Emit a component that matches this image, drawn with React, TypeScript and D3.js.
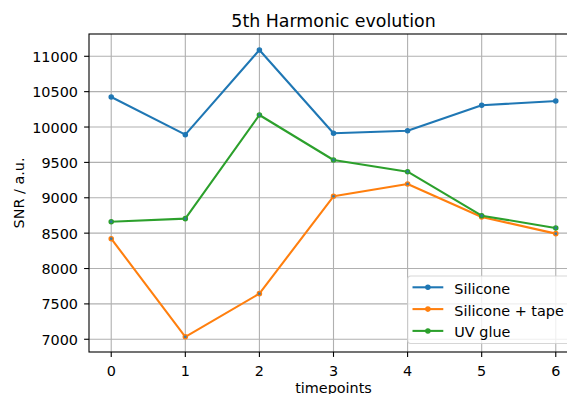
import React, { useRef, useEffect } from "react";
import * as d3 from "d3";

const W = 567;
const H = 394;
const margin = { top: 34, right: -11, bottom: 42, left: 89 };
const FONT = "'DejaVu Sans', sans-serif";
const FS = 14.4; // tick / label font size
const FS_TITLE = 17.4;

// data
const timepoints = [0, 1, 2, 3, 4, 5, 6];
const silicone = [10425, 9892, 11089, 9912, 9948, 10307, 10368];
const siliconeTape = [8422, 7035, 7645, 9021, 9195, 8729, 8493];
const uvGlue = [8662, 8705, 10170, 9534, 9369, 8747, 8573];
const yTicks = [7000, 7500, 8000, 8500, 9000, 9500, 10000, 10500, 11000];

const seriesNames = ["Silicone", "Silicone + tape", "UV glue"];
const seriesColors = ["#1f77b4", "#ff7f0e", "#2ca02c"];
const seriesValues = [silicone, siliconeTape, uvGlue];
// marker centres came out blue-ish for the two last series
const markerFaces = ["#1f77b4", "#3b7aa6", "#2b7b93"];

const x = d3.scaleLinear().domain([-0.3, 6.3]).range([margin.left, W - margin.right]);
const y = d3.scaleLinear().domain([6820, 11315]).range([H - margin.bottom, margin.top]);

function draw(ref: SVGSVGElement) {
    const svg = d3.select(ref);
    svg.selectAll("*").remove();
    svg.style("font-family", FONT);

    const x0 = margin.left;
    const x1 = W - margin.right;
    const y0 = margin.top;
    const y1 = H - margin.bottom;

    // grid
    const grid = svg.append("g").attr("stroke", "#b0b0b0").attr("stroke-width", 1.1);
    timepoints.forEach((t) => {
        grid.append("line").attr("x1", x(t)).attr("x2", x(t)).attr("y1", y0).attr("y2", y1);
    });
    yTicks.forEach((v) => {
        grid.append("line").attr("x1", x0).attr("x2", x1).attr("y1", y(v)).attr("y2", y(v));
    });

    // lines + markers
    const line = d3
        .line<number>()
        .x((_d, i) => x(timepoints[i]))
        .y((d) => y(d));

    seriesValues.forEach((vals, s) => {
        svg.append("path")
            .datum(vals)
            .attr("fill", "none")
            .attr("stroke", seriesColors[s])
            .attr("stroke-width", 2.08)
            .attr("stroke-linejoin", "round")
            .attr("stroke-linecap", "square")
            .attr("d", line);
        svg.append("g")
            .selectAll("circle")
            .data(vals)
            .join("circle")
            .attr("cx", (_d, i) => x(timepoints[i]))
            .attr("cy", (d) => y(d))
            .attr("r", 2.08)
            .attr("fill", markerFaces[s])
            .attr("stroke", seriesColors[s])
            .attr("stroke-width", 1.39);
    });

    // spines
    svg.append("rect")
        .attr("x", x0)
        .attr("y", y0)
        .attr("width", x1 - x0)
        .attr("height", y1 - y0)
        .attr("fill", "none")
        .attr("stroke", "black")
        .attr("stroke-width", 1.1);

    // x ticks
    const xt = svg.append("g");
    timepoints.forEach((t) => {
        xt.append("line")
            .attr("x1", x(t))
            .attr("x2", x(t))
            .attr("y1", y1)
            .attr("y2", y1 + 4.9)
            .attr("stroke", "black")
            .attr("stroke-width", 1.1);
        xt.append("text")
            .attr("x", x(t))
            .attr("y", y1 + 23.5)
            .attr("text-anchor", "middle")
            .attr("font-size", FS)
            .text(t);
    });

    // y ticks
    const yt = svg.append("g");
    yTicks.forEach((v) => {
        yt.append("line")
            .attr("x1", x0 - 4.9)
            .attr("x2", x0)
            .attr("y1", y(v))
            .attr("y2", y(v))
            .attr("stroke", "black")
            .attr("stroke-width", 1.1);
        yt.append("text")
            .attr("x", x0 - 11)
            .attr("y", y(v) + 5.5)
            .attr("text-anchor", "end")
            .attr("font-size", FS)
            .text(v);
    });

    // labels
    svg.append("text")
        .attr("x", (x0 + x1) / 2)
        .attr("y", 26.7)
        .attr("text-anchor", "middle")
        .attr("font-size", FS_TITLE)
        .text("5th Harmonic evolution");
    svg.append("text")
        .attr("x", (x0 + x1) / 2)
        .attr("y", 393)
        .attr("text-anchor", "middle")
        .attr("font-size", FS)
        .text("timepoints");
    svg.append("text")
        .attr("transform", `translate(23.5,${(y0 + y1) / 2}) rotate(-90)`)
        .attr("text-anchor", "middle")
        .attr("font-size", FS)
        .text("SNR / a.u.");

    // legend
    const lg = svg.append("g").attr("transform", "translate(407.7,276)");
    lg.append("rect")
        .attr("width", 175)
        .attr("height", 67.5)
        .attr("rx", 3)
        .attr("fill", "white")
        .attr("fill-opacity", 0.8)
        .attr("stroke", "#cccccc")
        .attr("stroke-opacity", 0.8)
        .attr("stroke-width", 1.1);
    seriesNames.forEach((name, i) => {
        const cy = 11.3 + i * 21.8;
        lg.append("line")
            .attr("x1", 4.8)
            .attr("x2", 35.6)
            .attr("y1", cy)
            .attr("y2", cy)
            .attr("stroke", seriesColors[i])
            .attr("stroke-width", 2.08);
        lg.append("circle")
            .attr("cx", 20.2)
            .attr("cy", cy)
            .attr("r", 2.08)
            .attr("fill", seriesColors[i])
            .attr("stroke", seriesColors[i])
            .attr("stroke-width", 1.39);
        lg.append("text")
            .attr("x", 46.6)
            .attr("y", cy + 6.5)
            .attr("font-size", FS)
            .text(name);
    });
}

export default function App() {
    const ref = useRef<SVGSVGElement>(null);

    useEffect(() => {
        if (ref.current) draw(ref.current);
    }, []);

    return (
        <div>
            <style>{`body { margin: 0; }`}</style>
            <svg ref={ref} width={W} height={H} style={{ display: "block", background: "white" }} />
        </div>
    );
}
